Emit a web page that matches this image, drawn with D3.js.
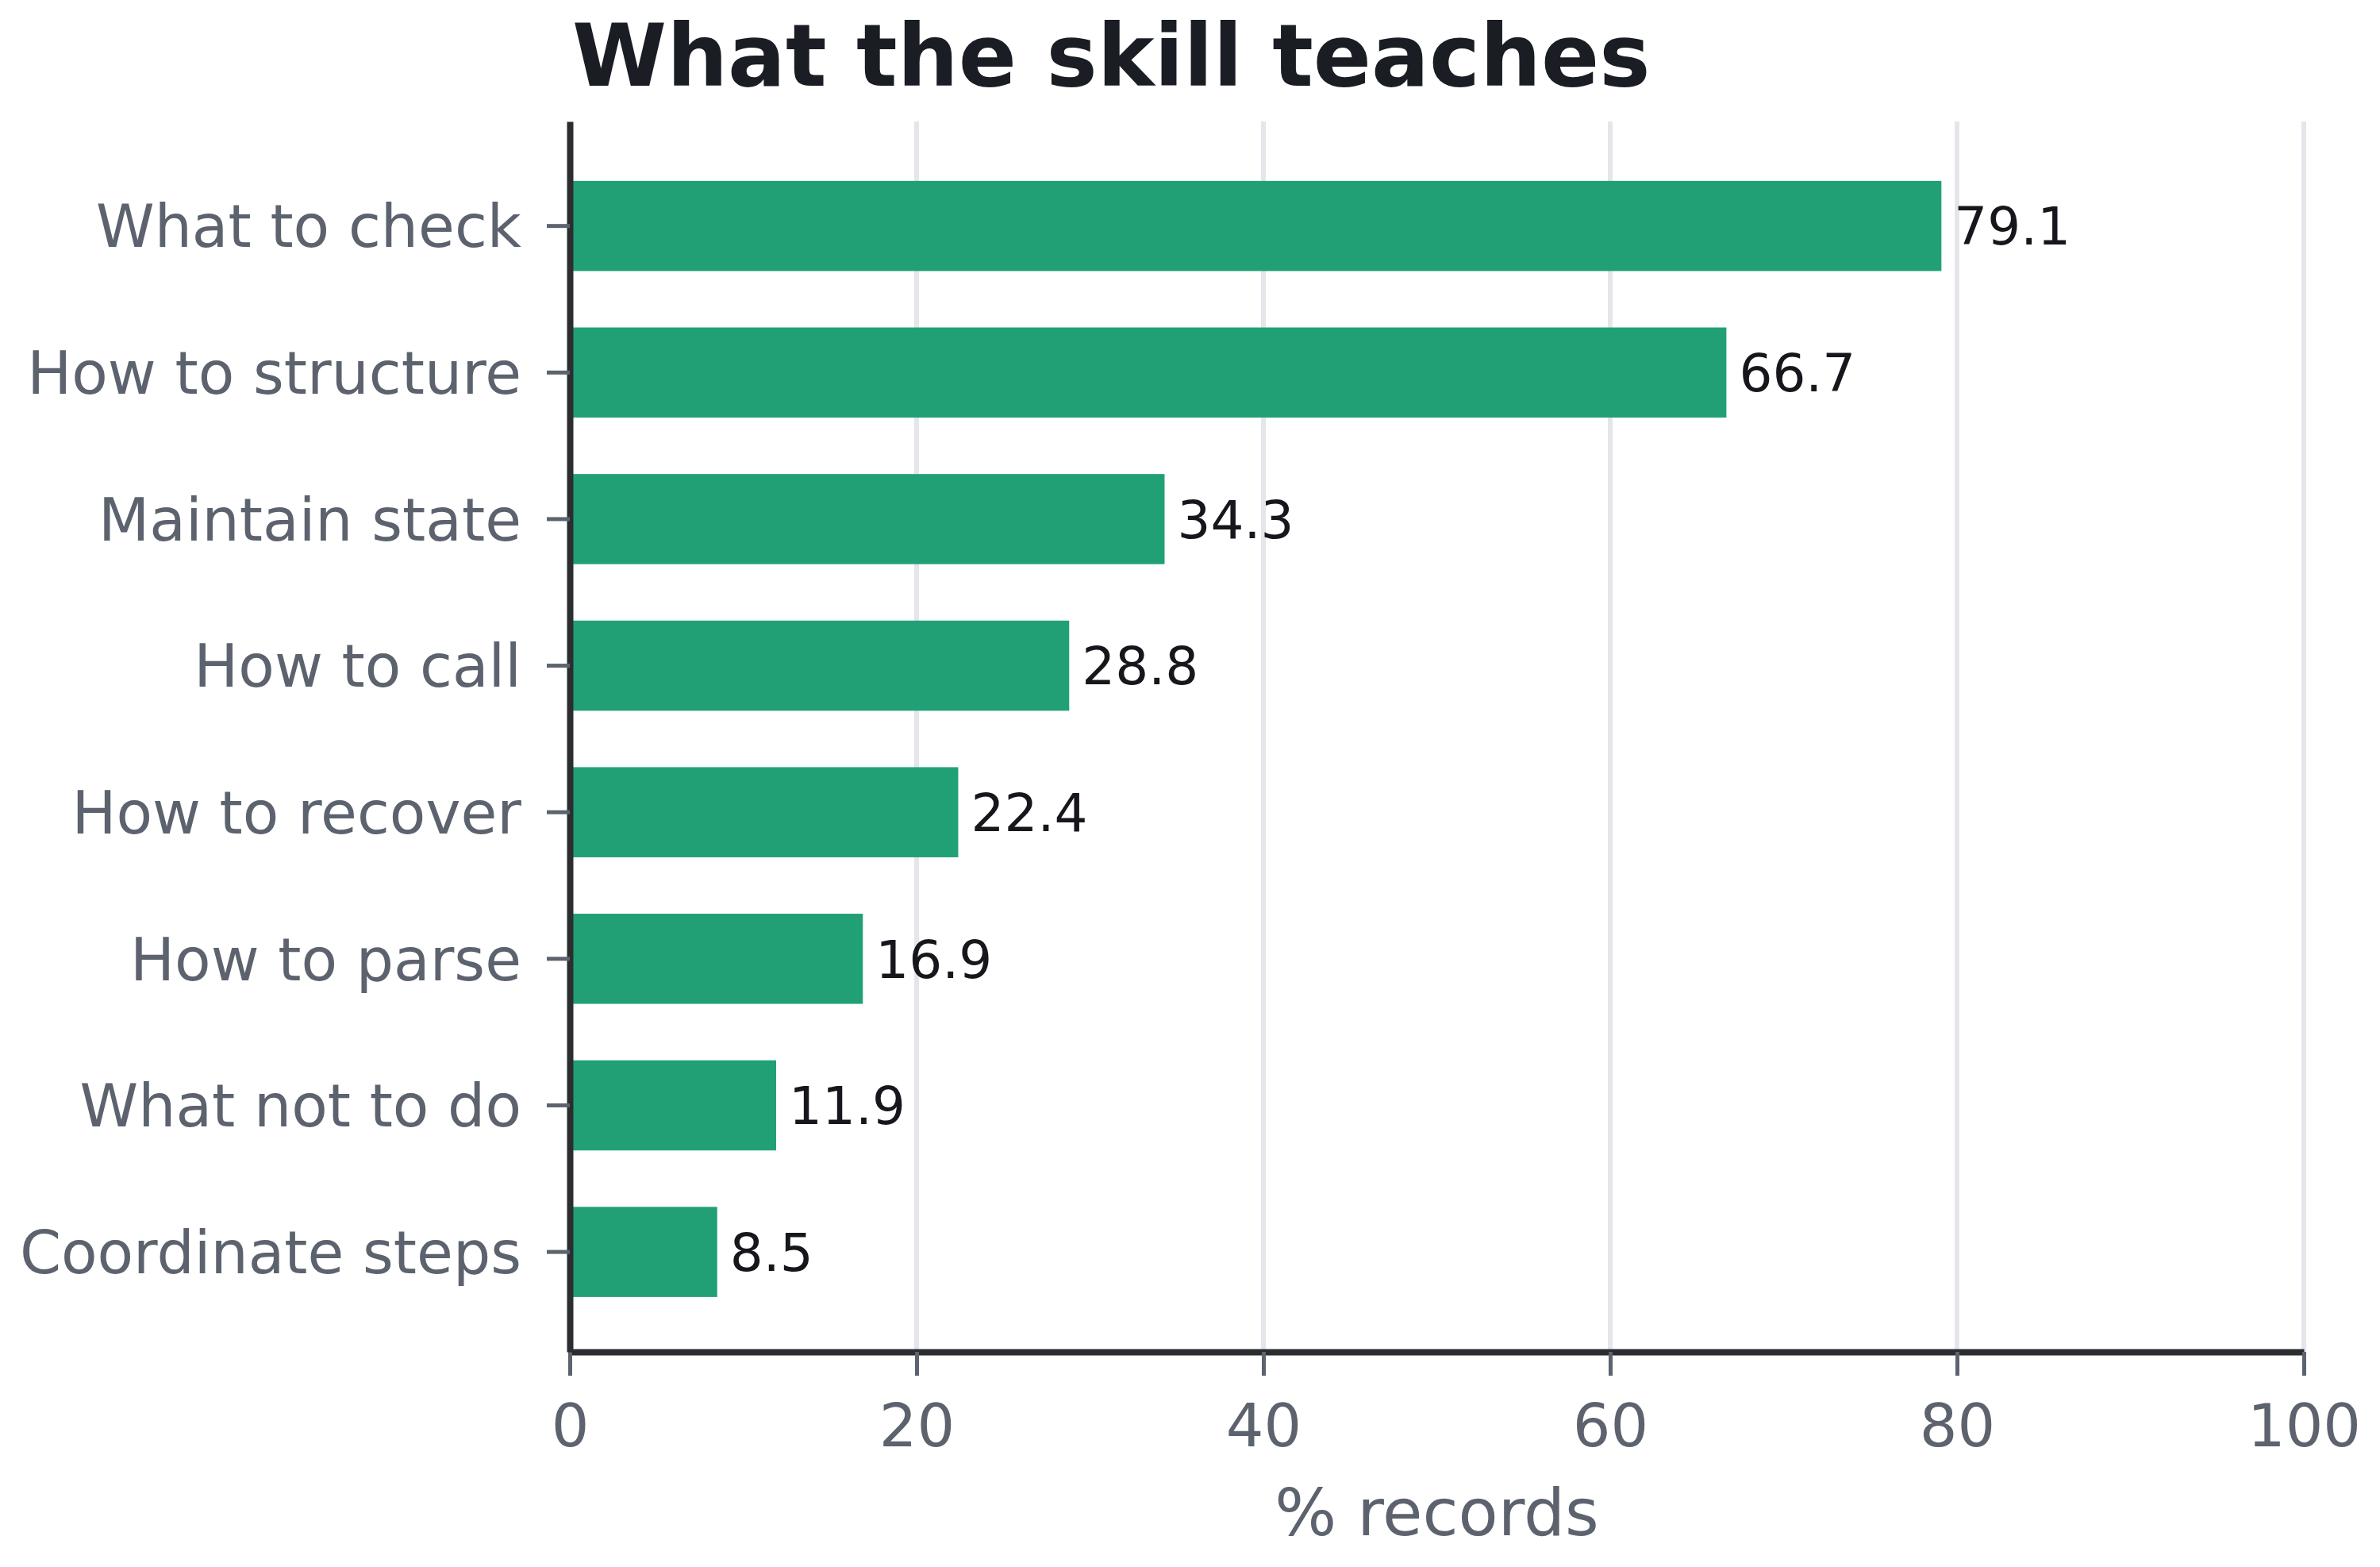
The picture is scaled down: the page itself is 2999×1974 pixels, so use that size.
<!DOCTYPE html>
<html>
<head>
<meta charset="utf-8">
<script src="https://cdn.jsdelivr.net/npm/d3@7"></script>
<style>
html,body{margin:0;padding:0;background:#fff;}
svg{display:block;}
text{font-family:"DejaVu Sans",sans-serif;}
</style>
</head>
<body>
<script>
const categories = ["What to check","How to structure","Maintain state","How to call","How to recover","How to parse","What not to do","Coordinate steps"];
const values = [79.1, 66.7, 34.3, 28.8, 22.4, 16.9, 11.9, 8.5];
const xTicks = [0, 20, 40, 60, 80, 100];
const title = "What the skill teaches";
const xLabel = "% records";

const W = 2999, H = 1974;
const mLeft = 718, mRight = 2903, mTop = 153, mBottom = 1703;

const svg = d3.select("body").append("svg").attr("width", W).attr("height", H);

const x = d3.scaleLinear().domain([0, 100]).range([mLeft, mRight]);
const y = d3.scaleBand().domain(categories).range([mTop, mBottom]).paddingInner(0.385).paddingOuter(0.39).align(0.52);

// grid
svg.append("g").selectAll("line").data(xTicks.filter(d => d > 0)).join("line")
  .attr("x1", d => x(d)).attr("x2", d => x(d))
  .attr("y1", mTop).attr("y2", mBottom)
  .attr("stroke", "#e4e6eb").attr("stroke-width", 6);

// bars
svg.append("g").selectAll("rect").data(values).join("rect")
  .attr("x", x(0))
  .attr("y", (d, i) => y(categories[i]))
  .attr("width", d => x(d) - x(0))
  .attr("height", y.bandwidth())
  .attr("fill", "#21a076");

// value labels
svg.append("g").selectAll("text").data(values).join("text")
  .attr("x", d => x(d) + 16)
  .attr("y", (d, i) => y(categories[i]) + y.bandwidth() / 2)
  .attr("dy", "0.36em")
  .attr("font-size", 66)
  .attr("fill", "#15171c")
  .text(d => d.toFixed(1));

// x axis
const xAxis = svg.append("g").attr("transform", `translate(0,${mBottom})`)
  .call(d3.axisBottom(x).tickValues(xTicks).tickSize(30).tickSizeOuter(0).tickPadding(36).tickFormat(d3.format("d")));
xAxis.select(".domain").attr("stroke", "#2b2d31").attr("stroke-width", 8);
xAxis.selectAll(".tick line").attr("stroke", "#5c636e").attr("stroke-width", 5);
xAxis.selectAll(".tick text").attr("font-size", 75).attr("fill", "#5c636e")
  .attr("font-family", "DejaVu Sans").attr("dy", "0.71em");

// y axis
const yAxis = svg.append("g").attr("transform", `translate(${mLeft},0)`)
  .call(d3.axisLeft(y).tickSize(29).tickSizeOuter(0).tickPadding(32));
yAxis.select(".domain").attr("stroke", "#2b2d31").attr("stroke-width", 8);
yAxis.selectAll(".tick line").attr("stroke", "#5c636e").attr("stroke-width", 5);
yAxis.selectAll(".tick text").attr("font-size", 74.5).attr("fill", "#5c636e")
  .attr("font-family", "DejaVu Sans").attr("dy", "0.36em");

// title
svg.append("text").attr("x", mLeft + 3).attr("y", 108)
  .attr("font-size", 108).attr("font-weight", "bold").attr("fill", "#1a1d23")
  .text(title);

// x label
svg.append("text").attr("x", (mLeft + mRight) / 2).attr("y", 1934)
  .attr("text-anchor", "middle").attr("font-size", 82).attr("fill", "#5c636e")
  .text(xLabel);
</script>
</body>
</html>
